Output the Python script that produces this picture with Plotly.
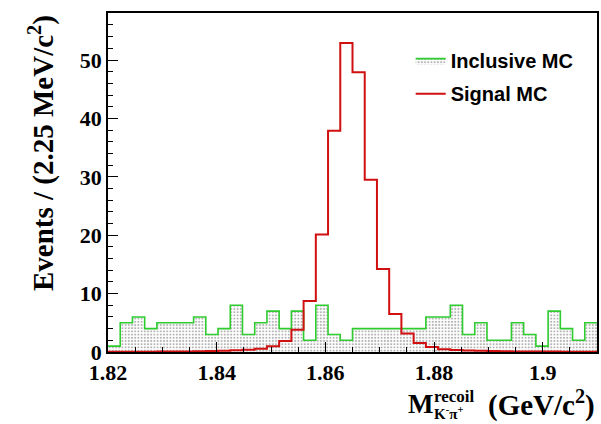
import numpy as np
import plotly.graph_objects as go

# Recoil mass of K- pi+ : 40 bins of 2.25 MeV/c^2 from 1.82 to 1.91 GeV/c^2
x_low, x_high, n_bins = 1.82, 1.91, 40
bin_edges = np.linspace(x_low, x_high, n_bins + 1)

# Inclusive MC counts per bin
inclusive_mc = [1, 5, 6, 4, 5, 5, 5, 6, 3, 4,
                8, 3, 5, 7, 4, 7, 2, 8, 3, 2,
                4, 4, 4, 4, 4, 4, 6, 6, 8, 3,
                5, 2, 2, 5, 3, 1, 7, 4, 2, 5]

# Signal MC (scaled) per bin
signal_mc = [0.05, 0.05, 0.05, 0.06, 0.07, 0.08, 0.1, 0.12, 0.15, 0.2,
             0.3, 0.4, 0.55, 1.0, 1.9, 3.8, 8.75, 20.1, 37.9, 52.9,
             47.9, 29.5, 14.2, 6.5, 3.15, 1.55, 0.86, 0.46, 0.35, 0.25,
             0.2, 0.15, 0.12, 0.1, 0.1, 0.08, 0.07, 0.06, 0.05, 0.05]

x_ticks = [1.82, 1.84, 1.86, 1.88, 1.90]
x_tick_labels = ["1.82", "1.84", "1.86", "1.88", "1.9"]
y_ticks = [0, 10, 20, 30, 40, 50]


def step_y(values):
    # repeat the last bin so the 'hv' step closes at the upper edge
    return list(values) + [values[-1]]


serif = "Liberation Serif, Times New Roman, serif"
sans = "Liberation Sans, Arial, sans-serif"

fig = go.Figure()

fig.add_trace(go.Scatter(
    x=bin_edges, y=step_y(inclusive_mc),
    mode="lines", line=dict(color="#2ecc2e", width=1.6, shape="hv"),
    fill="tozeroy", fillcolor="rgba(255,255,255,0)",
    fillpattern=dict(shape=".", fgcolor="#6a6a6a", bgcolor="white",
                     size=3.2, solidity=0.35),
    name="Inclusive MC", legendgroup="a",
))

fig.add_trace(go.Scatter(
    x=bin_edges, y=step_y(signal_mc),
    mode="lines", line=dict(color="#d01010", width=2.0, shape="hv"),
    name="Signal MC", legendgroup="b",
))

fig.update_layout(
    width=601, height=424,
    margin=dict(l=108, r=2, t=13, b=72),
    paper_bgcolor="white", plot_bgcolor="white",
    showlegend=True,
    legend=dict(x=0.619, y=0.917, xanchor="left", yanchor="top",
                font=dict(family=sans, size=20, color="black", weight="bold"),
                bgcolor="rgba(255,255,255,0)", tracegroupgap=4,
                itemwidth=30),
    xaxis=dict(
        range=[x_low, x_high], tickvals=x_ticks, ticktext=x_tick_labels,
        ticks="inside", ticklen=10, tickwidth=1.2, tickcolor="black",
        minor=dict(dtick=0.005, ticks="inside", ticklen=5, tickcolor="black"),
        showline=True, linecolor="black", linewidth=1.5, mirror=True,
        showgrid=False, zeroline=False,
        tickfont=dict(family=serif, size=22, color="black", weight="bold"),
    ),
    yaxis=dict(
        range=[0, 58.05], tickvals=y_ticks,
        ticks="inside", ticklen=10, tickwidth=1.2, tickcolor="black",
        minor=dict(dtick=2, ticks="inside", ticklen=5, tickcolor="black"),
        showline=True, linecolor="black", linewidth=1.5, mirror=True,
        showgrid=False, zeroline=False,
        tickfont=dict(family=serif, size=22, color="black", weight="bold"),
    ),
)

# y-axis title, aligned to the top of the axis
fig.add_annotation(
    text="<b>Events / (2.25 MeV/c<sup>2</sup>)</b>",
    xref="paper", yref="paper", x=-0.137, y=1.0,
    xanchor="center", yanchor="top", textangle=-90, showarrow=False,
    font=dict(family=serif, size=29, color="black"),
)

# x-axis title: M with stacked super/subscript, then units
fig.add_annotation(
    text="<b>M</b>", xref="paper", yref="paper", x=0.609, y=-0.152,
    xanchor="left", yanchor="middle", showarrow=False,
    font=dict(family=serif, size=27, color="black"),
)
fig.add_annotation(
    text="<b>recoil</b>", xref="paper", yref="paper", x=0.662, y=-0.132,
    xanchor="left", yanchor="middle", showarrow=False,
    font=dict(family=serif, size=17, color="black"),
)
fig.add_annotation(
    text="<b>K<sup>-</sup>π<sup>+</sup></b>", xref="paper", yref="paper",
    x=0.662, y=-0.181, xanchor="left", yanchor="middle", showarrow=False,
    font=dict(family=serif, size=15, color="black"),
)
fig.add_annotation(
    text="<b>(GeV/c<sup>2</sup>)</b>", xref="paper", yref="paper",
    x=1.0, y=-0.152, xanchor="right", yanchor="middle", showarrow=False,
    font=dict(family=serif, size=29, color="black"),
)

fig.write_html("out.html")
